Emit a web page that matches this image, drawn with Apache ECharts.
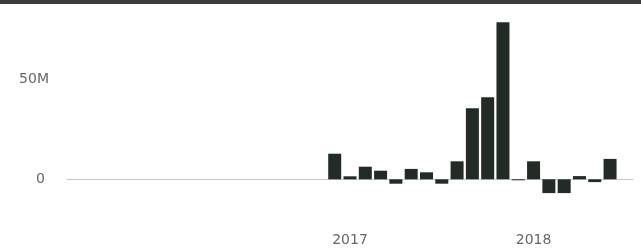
<!DOCTYPE html>
<html><head><meta charset="utf-8">
<script src="https://cdn.jsdelivr.net/npm/echarts@6/dist/echarts.min.js"></script>
<style>html,body{margin:0;padding:0;background:#fff}#c{width:641px;height:251px}</style>
</head><body><div id="c"></div>
<script>
// Months Jul 2015 .. Jul 2018
const months = [];
(function(){ let y=2015, m=7; for(let i=0;i<37;i++){ months.push(y+'-'+String(m).padStart(2,'0')); m++; if(m>12){m=1;y++;} } })();
// values in millions, Dec 2016 .. Jun 2018
const valueMonths = ['2016-12','2017-01','2017-02','2017-03','2017-04','2017-05','2017-06','2017-07','2017-08','2017-09','2017-10','2017-11','2017-12','2018-01','2018-02','2018-03','2018-04','2018-05','2018-06'];
const values = [12.8, 1.5, 6.3, 4.3, -2.2, 5.2, 3.5, -2.2, 9, 35.5, 41, 78.5, -0.5, 9, -6.9, -6.9, 1.6, -1.4, 10.2];
const xTickLabels = {'2017-01':'2017','2018-01':'2018'};
const yTickLabels = {0:'{z|0}',50:'50M'};

const series = months.map(mo => { const i = valueMonths.indexOf(mo); return i>=0 ? values[i] : null; });
const chart = echarts.init(document.getElementById('c'), null, {renderer:'canvas'});
chart.setOption({
  animation:false,
  graphic:[{type:'rect', shape:{x:0,y:0,width:641,height:4}, style:{fill:'#3b3b3b'}}],
  grid:{left:67, right:8, top:19.3, bottom:31.7, outerBoundsMode:'none', containLabel:false},
  xAxis:{type:'category', data:months,
    axisLine:{onZero:true, lineStyle:{color:'#c8c8c8', width:1}},
    axisTick:{show:false},
    axisLabel:{interval:0, margin:14, color:'#666', fontFamily:'DejaVu Sans', fontSize:14,
      formatter:v => xTickLabels[v] || ''},
    splitLine:{show:false}},
  yAxis:{type:'value', min:-20, max:80, interval:10,
    axisLine:{show:false}, axisTick:{show:false}, splitLine:{show:false},
    axisLabel:{margin:18, color:'#666', fontFamily:'DejaVu Sans', fontSize:14,
      formatter:v => yTickLabels[v] || '',
      rich:{z:{color:'#666', fontFamily:'DejaVu Sans', fontSize:14, padding:[0,4,0,0]}}}},
  series:[{type:'bar', data:series, barCategoryGap:'15%', itemStyle:{color:'#232b27'}}]
});
</script></body></html>
